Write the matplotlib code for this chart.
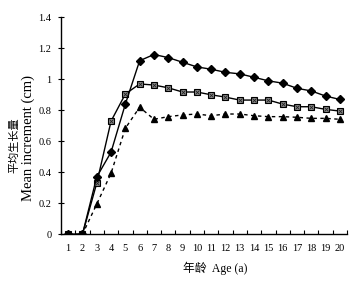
import numpy as np
import matplotlib.pyplot as plt

ages = list(range(1, 21))
diamond_vals = [0, 0, 0.37, 0.53, 0.84, 1.12, 1.16, 1.14, 1.11, 1.08, 1.065, 1.045,
                1.035, 1.013, 0.99, 0.975, 0.942, 0.925, 0.892, 0.87]
square_vals = [0, 0, 0.33, 0.73, 0.905, 0.97, 0.963, 0.945, 0.918, 0.918, 0.90, 0.885,
               0.866, 0.866, 0.866, 0.84, 0.823, 0.823, 0.806, 0.795]
triangle_vals = [0, 0, 0.195, 0.394, 0.684, 0.82, 0.742, 0.759, 0.77, 0.776, 0.765, 0.776,
                 0.776, 0.765, 0.759, 0.759, 0.755, 0.748, 0.748, 0.742]
y_ticks = [0, 0.2, 0.4, 0.6, 0.8, 1, 1.2, 1.4]
y_tick_labels = ["0", "0.2", "0.4", "0.6", "0.8", "1", "1.2", "1.4"]

serif = ["Liberation Serif", "Noto Sans CJK SC"]
cjk = ["Noto Sans CJK SC", "DejaVu Sans"]

fig = plt.figure(figsize=(3.57, 2.85), dpi=100)
ax = fig.add_axes([61 / 357, 50.7 / 285, 286 / 357, 217 / 285])

# squares with a cross inside, grey fill
ax.plot(ages, square_vals, color="black", lw=1.0, marker="s", ms=5,
        mfc="#8c8c8c", mec="black", mew=0.8, zorder=3)
ax.plot(ages, square_vals, ls="none", marker="x", ms=3, mec="#222222", mew=0.6, zorder=4)
ax.plot(ages, triangle_vals, color="black", lw=1.0, ls=(0, (2.5, 2.5)), marker="^", ms=5,
        mfc="black", mec="black", zorder=3)
ax.plot(ages, diamond_vals, color="black", lw=1.0, marker="D", ms=3.8,
        mfc="black", mec="black", zorder=5)

ax.set_xlim(0.5, 20.5)
ax.set_ylim(0, 1.4)
ax.set_xticks(ages)
ax.set_xticklabels([str(a) for a in ages], family="Liberation Serif", fontsize=7.5)
ax.set_xticks(np.arange(0.5, 21, 1), minor=True)
ax.tick_params(axis="x", which="major", length=0, pad=7)
ax.tick_params(axis="x", which="minor", direction="in", length=3, width=0.8)
ax.set_yticks(y_ticks)
ax.set_yticklabels(y_tick_labels, family="Liberation Serif", fontsize=7.5)
ax.tick_params(axis="y", direction="inout", length=4, width=0.8, pad=5)

for s in ["top", "right"]:
    ax.spines[s].set_visible(False)
for s in ["left", "bottom"]:
    ax.spines[s].set_linewidth(1.0)

fig.text(14 / 357, 1 - 145 / 285, "平均生长量", rotation=90, family=cjk, fontsize=8,
         ha="center", va="center")
fig.text(28 / 357, 1 - 138 / 285, "Mean increment (cm)", rotation=90, family=serif,
         fontsize=10.5, ha="center", va="center")
fig.text(215 / 357, 1 - 268 / 285, "年龄  Age (a)", family=serif, fontsize=8.5,
         ha="center", va="center")

fig.savefig("out.png", dpi=100)
